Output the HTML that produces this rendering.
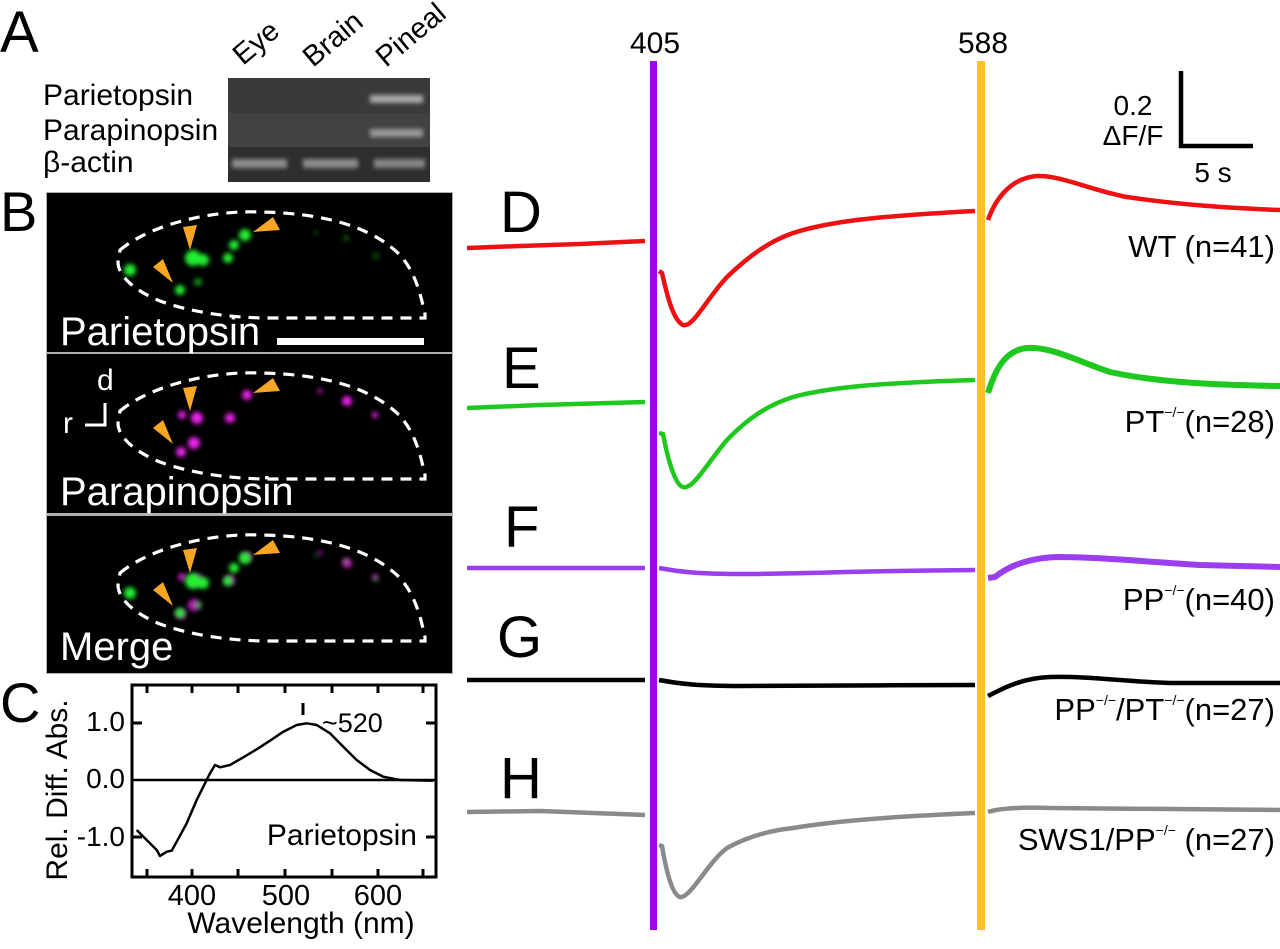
<!DOCTYPE html>
<html><head><meta charset="utf-8"><style>
html,body{margin:0;padding:0;background:#fff;}
svg{display:block;}
text{font-family:"Liberation Sans",Arial,sans-serif;}
</style></head><body>
<svg width="1280" height="949" viewBox="0 0 1280 949" xmlns="http://www.w3.org/2000/svg">
<defs>
<filter id="bl" x="-50%" y="-50%" width="200%" height="200%"><feGaussianBlur stdDeviation="2.4"/></filter>
<filter id="bl2" x="-50%" y="-50%" width="200%" height="200%"><feGaussianBlur stdDeviation="2"/></filter>
<g id="outline">
<path d="M120 250 C150 225,210 210,260 212 C320 213,370 225,400 255 C415 272,420 292,425 314 L425 318 L270 318 C230 318,190 312,160 301 C135 291,118 276,118 262 Z" fill="none" stroke="#fff" stroke-width="3.2" stroke-dasharray="11 8"/>
</g>
<g id="arrows" fill="#f7a625">
<polygon points="183,227 197,225 190,250"/>
<polygon points="153,267 163,259 173,283"/>
<polygon points="253,232 273,217 280,230"/>
</g>
<g id="greens" fill="#22ee33" filter="url(#bl)">
<circle cx="130" cy="270" r="6"/>
<circle cx="193" cy="258" r="8"/>
<circle cx="203" cy="260" r="6"/>
<circle cx="245" cy="235" r="6"/>
<circle cx="234" cy="245" r="5"/>
<circle cx="228" cy="258" r="5"/>
<circle cx="180" cy="290" r="5"/>
<circle cx="198" cy="282" r="4" opacity="0.6"/>
<circle cx="346" cy="238" r="3" opacity="0.4"/>
<circle cx="376" cy="256" r="3" opacity="0.4"/>
<circle cx="316" cy="233" r="2" opacity="0.4"/>
</g>
<g id="mags" fill="#ee22ee" filter="url(#bl)">
<circle cx="247" cy="234" r="5"/>
<circle cx="230" cy="257" r="5"/>
<circle cx="197" cy="257" r="6"/>
<circle cx="347" cy="240" r="5"/>
<circle cx="375" cy="254" r="3"/>
<circle cx="182" cy="254" r="4"/>
<circle cx="194" cy="282" r="6"/>
<circle cx="181" cy="291" r="5"/>
<circle cx="320" cy="230" r="3" opacity="0.6"/>
</g>
</defs>

<!-- Panel A -->
<text x="0" y="52" font-size="58">A</text>
<text transform="translate(243,66) rotate(-40)" font-size="29">Eye</text>
<text transform="translate(313,68) rotate(-40)" font-size="29">Brain</text>
<text transform="translate(386,68) rotate(-40)" font-size="29">Pineal</text>
<text x="43" y="105" font-size="30">Parietopsin</text>
<text x="43" y="140" font-size="30">Parapinopsin</text>
<text x="43" y="172" font-size="30">β-actin</text>
<rect x="228" y="78" width="202" height="35" fill="#3a3a3a"/>
<rect x="228" y="113" width="202" height="34" fill="#424242"/>
<rect x="228" y="147" width="202" height="35" fill="#2e2e2e"/>
<g filter="url(#bl2)">
<rect x="370" y="95" width="53" height="8" fill="#a8a8a8"/>
<rect x="370" y="129" width="53" height="8" fill="#999"/>
<rect x="232" y="159" width="55" height="9" fill="#8c8c8c"/>
<rect x="303" y="159" width="55" height="9" fill="#8c8c8c"/>
<rect x="374" y="159" width="51" height="9" fill="#858585"/>
</g>

<!-- Panel B -->
<text x="0" y="231" font-size="56">B</text>
<rect x="46" y="192" width="407" height="482" fill="#b0b0b0"/>
<rect x="47" y="193" width="405" height="159" fill="#000"/>
<rect x="47" y="354" width="405" height="159" fill="#000"/>
<rect x="47" y="516" width="405" height="157" fill="#000"/>
<!-- panel 1 -->
<use href="#greens"/>
<use href="#outline"/>
<use href="#arrows"/>
<rect x="277" y="338" width="147" height="7" fill="#fff"/>
<text x="60" y="345" font-size="40" fill="#fff">Parietopsin</text>
<!-- panel 2 -->
<g transform="translate(0,161)">
<use href="#mags"/>
<use href="#outline"/>
<use href="#arrows"/>
</g>
<text x="97" y="390" font-size="30" fill="#fff">d</text>
<text x="63" y="433" font-size="30" fill="#fff">r</text>
<path d="M105 403 L105 425 L85 425" fill="none" stroke="#fff" stroke-width="3"/>
<text x="60" y="505" font-size="40" fill="#fff">Parapinopsin</text>
<!-- panel 3 -->
<g transform="translate(0,323)">
<use href="#mags" opacity="0.8"/>
<use href="#greens"/>
<use href="#outline"/>
<use href="#arrows"/>
</g>
<text x="60" y="660" font-size="40" fill="#fff">Merge</text>

<!-- Panel C -->
<text x="0" y="722" font-size="56">C</text>
<rect x="132" y="685" width="304" height="192" fill="none" stroke="#000" stroke-width="3"/>
<line x1="132" y1="780" x2="436" y2="780" stroke="#000" stroke-width="2.5"/>
<g stroke="#000" stroke-width="3">
<line x1="147" y1="877" x2="147" y2="869"/><line x1="192" y1="877" x2="192" y2="869"/><line x1="238" y1="877" x2="238" y2="869"/><line x1="285" y1="877" x2="285" y2="869"/><line x1="332" y1="877" x2="332" y2="869"/><line x1="378" y1="877" x2="378" y2="869"/><line x1="423" y1="877" x2="423" y2="869"/>
<line x1="147" y1="685" x2="147" y2="693"/><line x1="192" y1="685" x2="192" y2="693"/><line x1="238" y1="685" x2="238" y2="693"/><line x1="285" y1="685" x2="285" y2="693"/><line x1="332" y1="685" x2="332" y2="693"/><line x1="378" y1="685" x2="378" y2="693"/><line x1="423" y1="685" x2="423" y2="693"/>
<line x1="132" y1="723" x2="142" y2="723"/><line x1="132" y1="837" x2="142" y2="837"/>
<line x1="426" y1="723" x2="436" y2="723"/><line x1="426" y1="837" x2="436" y2="837"/>
<line x1="303" y1="703" x2="303" y2="715"/>
</g>
<polyline fill="none" stroke="#000" stroke-width="2.5" stroke-linejoin="round" points="136.7,830 146.7,840 156.7,850 160,856 166.7,851.7 171.7,850.7 176.7,841.7 186.7,823.3 196.7,800 205,783.3 210,773.3 215,765 220,767.3 230,765 243.3,757.3 256.7,749.3 270,740.7 283.3,731.7 296.7,725 306.7,723.3 316.7,725 330,733.3 343.3,746.7 356.7,760 370,770 383.3,776.7 400,780 433.3,780.7"/>
<text x="125" y="731" font-size="28" text-anchor="end">1.0</text>
<text x="125" y="788" font-size="28" text-anchor="end">0.0</text>
<text x="125" y="846" font-size="28" text-anchor="end">-1.0</text>
<text x="192" y="905" font-size="29" text-anchor="middle">400</text>
<text x="286" y="905" font-size="29" text-anchor="middle">500</text>
<text x="378" y="905" font-size="29" text-anchor="middle">600</text>
<text x="301" y="933" font-size="30" text-anchor="middle">Wavelength (nm)</text>
<text transform="translate(67,790) rotate(-90)" font-size="30" text-anchor="middle">Rel. Diff. Abs.</text>
<text x="322" y="732" font-size="27">~520</text>
<text x="417" y="845" font-size="30" text-anchor="end">Parietopsin</text>

<!-- Stimulus lines -->
<rect x="650" y="61" width="7" height="869" fill="#9f00f5"/>
<rect x="977" y="61" width="8" height="869" fill="#fdc028"/>
<text x="655" y="53" font-size="30" text-anchor="middle">405</text>
<text x="983" y="53" font-size="30" text-anchor="middle">588</text>

<!-- Scale bar -->
<path d="M1181 71 L1181 146 L1253 146" fill="none" stroke="#000" stroke-width="4.5"/>
<text x="1133" y="115" font-size="28" text-anchor="middle">0.2</text>
<text x="1133" y="145" font-size="28" text-anchor="middle">ΔF/F</text>
<text x="1213" y="182" font-size="28" text-anchor="middle">5 s</text>

<!-- Traces -->
<g fill="none" stroke-width="4.5" stroke-linejoin="round" stroke-linecap="butt">
<g stroke="#ee1111">
<path d="M467 248 L520 246 L580 244 L645 241"/>
<path d="M659 271 L662 273 C667 295,673 320,683 325 C693 328,707 298,727 277 C750 255,770 241,793 233 C830 221,880 216,975 211"/>
<path d="M988 220 C995 200,1010 178,1037 176 C1060 175,1090 190,1127 197 C1180 205,1230 208,1280 210"/>
</g>
<g stroke="#1ec81e">
<path d="M467 408 L540 405 L645 402"/>
<path d="M659 433 L663 434 C668 460,675 485,683 487 C693 490,708 462,727 440 C748 418,768 405,793 397 C830 387,880 383,975 380"/>
<path d="M988 393 C995 370,1005 350,1027 348 C1050 346,1080 362,1110 372 C1160 383,1220 385,1280 386" stroke-width="6"/>
</g>
<g stroke="#9a3ef0">
<path d="M467 568 L645 568"/>
<path d="M659 568 C680 572,700 574,740 574 C800 574,850 571,975 570"/>
<path d="M988 578 L995 577 C1010 565,1030 558,1057 557 C1100 557,1150 562,1200 565 L1280 567" stroke-width="6"/>
</g>
<g stroke="#000">
<path d="M467 680 L645 680"/>
<path d="M659 680 C680 684,700 686,740 686 C800 686,900 685,975 685"/>
<path d="M988 696 C1000 690,1020 678,1050 677 C1090 676,1130 682,1170 683 L1280 683"/>
</g>
<g stroke="#8a8a8a">
<path d="M467 812 L540 811 L645 815"/>
<path d="M659 845 L662 846 C666 870,672 895,680 897 C690 899,708 862,727 848 C750 835,775 830,793 828 C830 822,880 817,975 813"/>
<path d="M988 812 C1000 808,1020 807,1050 808 L1280 810"/>
</g>
</g>

<!-- Panel letters -->
<text x="500" y="232" font-size="58">D</text>
<text x="502" y="388" font-size="58">E</text>
<text x="504" y="547" font-size="58">F</text>
<text x="497" y="657" font-size="58">G</text>
<text x="500" y="798" font-size="58">H</text>

<!-- Right labels -->
<text x="1275" y="257" font-size="31" text-anchor="end">WT (n=41)</text>
<text x="1275" y="432" font-size="31" text-anchor="end">PT<tspan font-size="14" dy="-15">−/−</tspan><tspan dy="15">(n=28)</tspan></text>
<text x="1275" y="610" font-size="31" text-anchor="end">PP<tspan font-size="14" dy="-15">−/−</tspan><tspan dy="15">(n=40)</tspan></text>
<text x="1275" y="720" font-size="31" text-anchor="end">PP<tspan font-size="14" dy="-15">−/−</tspan><tspan dy="15">/PT</tspan><tspan font-size="14" dy="-15">−/−</tspan><tspan dy="15">(n=27)</tspan></text>
<text x="1275" y="850" font-size="31" text-anchor="end">SWS1/PP<tspan font-size="14" dy="-15">−/−</tspan><tspan dy="15"> (n=27)</tspan></text>
</svg>
</body></html>
